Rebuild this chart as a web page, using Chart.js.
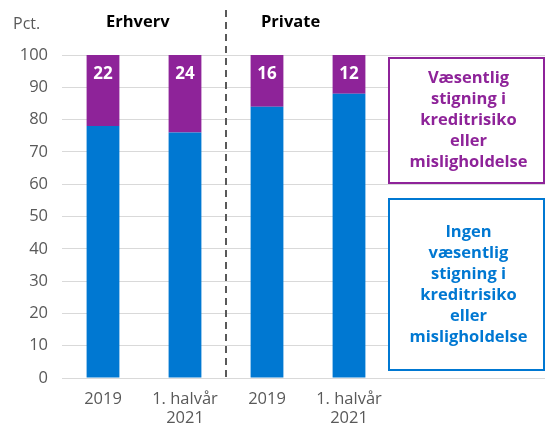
<!DOCTYPE html>
<html>
<head>
<meta charset="utf-8">
<script src="https://cdn.jsdelivr.net/npm/chart.js@4"></script>
<style>
  html, body { margin: 0; padding: 0; background: #fff; }
  #wrap { width: 545px; height: 428px; }
</style>
</head>
<body>
<div id="wrap"><canvas id="riskChart"></canvas></div>
<script>
const categories = [["2019"], ["1. halvår", "2021"], ["2019"], ["1. halvår", "2021"]];
const noIncrease = [78, 76, 84, 88];    // Ingen væsentlig stigning (blue)
const sigIncrease = [22, 24, 16, 12];   // Væsentlig stigning (purple)
const groupLabels = ["Erhverv", "Private"];
const yTicks = [0, 10, 20, 30, 40, 50, 60, 70, 80, 90, 100];

const BLUE = "#0078D2";
const PURPLE = "#8E2399";
const GREY = "#595959";
const FONT = "'Open Sans', sans-serif";

const ctx = document.getElementById("riskChart").getContext("2d");

// gridlines carry on under the text boxes to the right edge
const extendGrid = {
    id: "extendGrid",
    beforeDatasetsDraw(chart) {
        const y = chart.scales.y;
        const c = chart.ctx;
        c.save();
        c.strokeStyle = "#d9d9d9";
        c.lineWidth = 1;
        yTicks.forEach(v => {
            const py = Math.round(y.getPixelForValue(v)) + 0.5;
            c.beginPath();
            c.moveTo(chart.chartArea.right, py);
            c.lineTo(chart.width, py);
            c.stroke();
        });
        c.restore();
    }
};

const extras = {
    id: "extras",
    afterDraw(chart) {
        const c = chart.ctx;
        const x = chart.scales.x;
        const y = chart.scales.y;
        c.save();

        // values in purple segments
        c.fillStyle = "#fff";
        c.font = "bold 17px " + FONT;
        c.textAlign = "center";
        c.textBaseline = "middle";
        sigIncrease.forEach((v, i) => {
            c.fillText(String(v), x.getPixelForValue(i), y.getPixelForValue(100) + 19);
        });

        // dashed divider between the groups
        const midX = (x.getPixelForValue(1) + x.getPixelForValue(2)) / 2;
        c.strokeStyle = GREY;
        c.lineWidth = 2;
        c.setLineDash([7, 5]);
        c.beginPath();
        c.moveTo(midX, 10);
        c.lineTo(midX, y.getPixelForValue(0));
        c.stroke();
        c.setLineDash([]);

        // group headers
        c.fillStyle = "#000";
        c.font = "bold 16.5px " + FONT;
        c.textAlign = "left";
        c.fillText(groupLabels[0], x.getPixelForValue(0) + 3, 22);
        c.fillText(groupLabels[1], x.getPixelForValue(2) - 6, 22);

        // "Pct." unit
        c.fillStyle = GREY;
        c.font = "16px " + FONT;
        c.fillText("Pct.", 13, 24);

        // legend boxes
        const bx = chart.chartArea.right - 1;
        const bw = chart.width - bx - 1;
        const box = (top, bottom, color, lines) => {
            c.fillStyle = "#fff";
            c.fillRect(bx, top, bw, bottom - top);
            c.strokeStyle = color;
            c.lineWidth = 2;
            c.strokeRect(bx, top, bw, bottom - top);
            c.fillStyle = color;
            c.font = "bold 16.5px " + FONT;
            c.textAlign = "center";
            const lh = 21;
            const mid = (top + bottom) / 2;
            const start = mid - (lines.length - 1) * lh / 2;
            lines.forEach((t, i) => c.fillText(t, bx + bw / 2 + 2, start + i * lh));
        };
        box(58, 183, PURPLE, ["Væsentlig", "stigning i", "kreditrisiko", "eller", "misligholdelse"]);
        box(199, 370, BLUE, ["Ingen", "væsentlig", "stigning i", "kreditrisiko", "eller", "misligholdelse"]);

        c.restore();
    }
};

new Chart(ctx, {
    type: "bar",
    data: {
        labels: categories,
        datasets: [
            { label: "Ingen væsentlig stigning", data: noIncrease, backgroundColor: BLUE, borderWidth: 0 },
            { label: "Væsentlig stigning", data: sigIncrease, backgroundColor: PURPLE, borderWidth: 0 }
        ]
    },
    options: {
        responsive: true,
        maintainAspectRatio: false,
        animation: false,
        layout: { padding: { top: 55, right: 155, left: 0, bottom: 0 } },
        datasets: { bar: { categoryPercentage: 1, barPercentage: 0.4 } },
        plugins: {
            legend: { display: false },
            tooltip: { enabled: false }
        },
        scales: {
            x: {
                stacked: true,
                grid: { display: false },
                border: { color: "#d9d9d9" },
                ticks: { color: GREY, font: { family: FONT, size: 16.5, lineHeight: 1.2 }, padding: 3 },
                afterFit(s) { s.height = 50; }
            },
            y: {
                stacked: true,
                min: 0,
                max: 100,
                afterBuildTicks(s) { s.ticks = yTicks.map(v => ({ value: v })); },
                grid: { color: "#d9d9d9", drawTicks: false },
                border: { display: false },
                ticks: { color: GREY, font: { family: FONT, size: 16.5 }, padding: 14 },
                afterFit(s) { s.width = 62; }
            }
        }
    },
    plugins: [extendGrid, extras]
});
</script>
</body>
</html>
